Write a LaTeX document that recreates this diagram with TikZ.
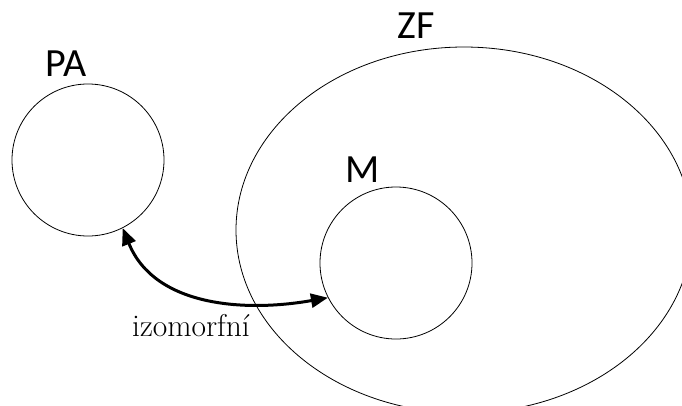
\documentclass[tikz,border=0pt]{standalone}
\usepackage{fontspec}
\newfontfamily\labfont{Carlito}
\usetikzlibrary{arrows.meta,shapes.geometric}
\begin{document}
\begin{tikzpicture}[x=1pt,y=-1pt,
  setcircle/.style={draw,circle,line width=0.8pt,minimum size=152pt,inner sep=0pt},
  setlabel/.style={font=\labfont\fontsize{40}{44}\selectfont,inner sep=0pt},
  isotip/.tip={Triangle[length=17pt,width=14pt]},
  iso/.style={line width=3pt,isotip-isotip}]
\useasboundingbox (0,0) rectangle (682,405);
\clip (0,0) rectangle (682,405);
\node[draw,ellipse,line width=0.8pt,minimum width=456pt,minimum height=366pt,inner sep=0pt] (zf) at (464,230) {};
\node[setcircle] (pa) at (88,160) {};
\node[setcircle] (m) at (396,263) {};
\node[setlabel] (lpa) at (66,64) {PA};
\node[setlabel] (lzf) at (416,26) {ZF};
\node[setlabel] (lm) at (363,170) {M};
\draw[iso] (pa.-63) to[out=-68,in=190] (m.-153.5);
\node[font=\fontsize{31.5}{36}\selectfont,inner sep=0pt,anchor=base] (lab) at (191,336) {izomorfní};
\end{tikzpicture}
\end{document}
